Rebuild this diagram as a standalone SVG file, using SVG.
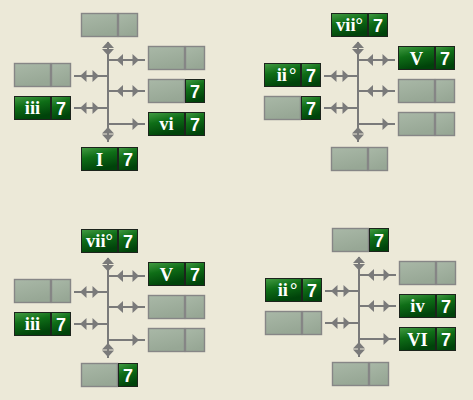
<svg xmlns="http://www.w3.org/2000/svg" xmlns:xlink="http://www.w3.org/1999/xlink" width="473" height="400" viewBox="0 0 473 400">
<style>
.bg{fill:#ece9d8}
.g{fill:url(#gG);stroke:#1c241c;stroke-width:1}
.y{fill:url(#gY);stroke:#868686;stroke-width:1.4}
.rn{font-family:"Liberation Serif","Times New Roman",serif;font-weight:bold;font-size:18.5px;fill:#ffffff;text-anchor:middle}
.nm{font-family:"Liberation Sans",Arial,sans-serif;font-weight:bold;font-size:18px;fill:#ffffff;text-anchor:middle}
.ln{stroke:#7a7a7a;stroke-width:2;fill:none}
.ah{fill:#7a7a7a}
</style>
<defs>
<linearGradient id="gG" x1="0" y1="0" x2="0.35" y2="1">
<stop offset="0" stop-color="#449c44"/>
<stop offset="0.45" stop-color="#0f6e17"/>
<stop offset="1" stop-color="#00430a"/>
</linearGradient>
<linearGradient id="gY" x1="0" y1="0" x2="0.35" y2="1">
<stop offset="0" stop-color="#a9b8a7"/>
<stop offset="1" stop-color="#97a795"/>
</linearGradient>
<path id="aR" d="M0,-6 L6.5,0 L0,6 Z"/>
<path id="aL" d="M0,-6 L-6.5,0 L0,6 Z"/>
<path id="aU" d="M-6,0 L0,-6.5 L6,0 Z"/>
<path id="aD" d="M-6,0 L0,6.5 L6,0 Z"/>
<g id="conn">
<line class="ln" x1="108" y1="42" x2="108" y2="142"/>
<use class="ah" xlink:href="#aU" x="108" y="48"/>
<use class="ah" xlink:href="#aD" x="108" y="49"/>
<use class="ah" xlink:href="#aU" x="108" y="133.5"/>
<use class="ah" xlink:href="#aD" x="108" y="134.5"/>
<line class="ln" x1="108" y1="60" x2="145" y2="60"/>
<use class="ah" xlink:href="#aL" x="123" y="60"/>
<use class="ah" xlink:href="#aR" x="132.5" y="60"/>
<line class="ln" x1="108" y1="91" x2="145" y2="91"/>
<use class="ah" xlink:href="#aL" x="123" y="91"/>
<use class="ah" xlink:href="#aR" x="132.5" y="91"/>
<line class="ln" x1="108" y1="124" x2="145" y2="124"/>
<use class="ah" xlink:href="#aR" x="132.5" y="124"/>
<line class="ln" x1="74" y1="76" x2="108" y2="76"/>
<use class="ah" xlink:href="#aL" x="86.5" y="76"/>
<use class="ah" xlink:href="#aR" x="92.5" y="76"/>
<line class="ln" x1="74" y1="108" x2="108" y2="108"/>
<use class="ah" xlink:href="#aL" x="86.5" y="108"/>
<use class="ah" xlink:href="#aR" x="92.5" y="108"/>
</g>
</defs>
<rect class="bg" x="0" y="0" width="473" height="400"/>
<g id="connectors">
<use xlink:href="#conn"/>
<use xlink:href="#conn" transform="translate(250,0)"/>
<use xlink:href="#conn" transform="translate(0,216)"/>
<use xlink:href="#conn" transform="translate(251,215)"/>
</g>
<!-- Panel 1 -->
<g id="p1-top" transform="translate(81,13)"><rect class="y" x="0.5" y="0.5" width="36" height="23"/><rect class="y" x="37.5" y="0.5" width="19" height="23"/></g>
<g id="p1-r1" transform="translate(148,46)"><rect class="y" x="0.5" y="0.5" width="36" height="23"/><rect class="y" x="37.5" y="0.5" width="19" height="23"/></g>
<g id="p1-r2" transform="translate(148,79)"><rect class="y" x="0.5" y="0.5" width="36" height="23"/><rect class="g" x="37.5" y="0.5" width="19" height="23"/><text class="nm" x="47" y="18.5">7</text></g>
<g id="p1-r3" transform="translate(148,112)"><rect class="g" x="0.5" y="0.5" width="36" height="23"/><text class="rn" x="18.5" y="18">vi</text><rect class="g" x="37.5" y="0.5" width="19" height="23"/><text class="nm" x="47" y="18.5">7</text></g>
<g id="p1-l1" transform="translate(14,63)"><rect class="y" x="0.5" y="0.5" width="36" height="23"/><rect class="y" x="37.5" y="0.5" width="19" height="23"/></g>
<g id="p1-l2" transform="translate(14,96)"><rect class="g" x="0.5" y="0.5" width="36" height="23"/><text class="rn" x="18.5" y="18">iii</text><rect class="g" x="37.5" y="0.5" width="19" height="23"/><text class="nm" x="47" y="18.5">7</text></g>
<g id="p1-bot" transform="translate(81,147)"><rect class="g" x="0.5" y="0.5" width="36" height="23"/><text class="rn" x="18.5" y="18.5">I</text><rect class="g" x="37.5" y="0.5" width="19" height="23"/><text class="nm" x="47" y="18.5">7</text></g>
<!-- Panel 2 -->
<g id="p2-top" transform="translate(331,13)"><rect class="g" x="0.5" y="0.5" width="36" height="23"/><text class="rn" x="18.5" y="17.5">vii°</text><rect class="g" x="37.5" y="0.5" width="19" height="23"/><text class="nm" x="47" y="18.5">7</text></g>
<g id="p2-r1" transform="translate(398,46)"><rect class="g" x="0.5" y="0.5" width="36" height="23"/><text class="rn" x="18.5" y="18.5">V</text><rect class="g" x="37.5" y="0.5" width="19" height="23"/><text class="nm" x="47" y="18.5">7</text></g>
<g id="p2-r2" transform="translate(398,79)"><rect class="y" x="0.5" y="0.5" width="36" height="23"/><rect class="y" x="37.5" y="0.5" width="19" height="23"/></g>
<g id="p2-r3" transform="translate(398,112)"><rect class="y" x="0.5" y="0.5" width="36" height="23"/><rect class="y" x="37.5" y="0.5" width="19" height="23"/></g>
<g id="p2-l1" transform="translate(264,63)"><rect class="g" x="0.5" y="0.5" width="36" height="23"/><text class="rn" x="22.5" y="17.5">ii<tspan dx="2">°</tspan></text><rect class="g" x="37.5" y="0.5" width="19" height="23"/><text class="nm" x="47" y="18.5">7</text></g>
<g id="p2-l2" transform="translate(264,96)"><rect class="y" x="0.5" y="0.5" width="36" height="23"/><rect class="g" x="37.5" y="0.5" width="19" height="23"/><text class="nm" x="47" y="18.5">7</text></g>
<g id="p2-bot" transform="translate(331,147)"><rect class="y" x="0.5" y="0.5" width="36" height="23"/><rect class="y" x="37.5" y="0.5" width="19" height="23"/></g>
<!-- Panel 3 -->
<g id="p3-top" transform="translate(81,229)"><rect class="g" x="0.5" y="0.5" width="36" height="23"/><text class="rn" x="18.5" y="17.5">vii°</text><rect class="g" x="37.5" y="0.5" width="19" height="23"/><text class="nm" x="47" y="18.5">7</text></g>
<g id="p3-r1" transform="translate(148,262)"><rect class="g" x="0.5" y="0.5" width="36" height="23"/><text class="rn" x="18.5" y="18.5">V</text><rect class="g" x="37.5" y="0.5" width="19" height="23"/><text class="nm" x="47" y="18.5">7</text></g>
<g id="p3-r2" transform="translate(148,295)"><rect class="y" x="0.5" y="0.5" width="36" height="23"/><rect class="y" x="37.5" y="0.5" width="19" height="23"/></g>
<g id="p3-r3" transform="translate(148,328)"><rect class="y" x="0.5" y="0.5" width="36" height="23"/><rect class="y" x="37.5" y="0.5" width="19" height="23"/></g>
<g id="p3-l1" transform="translate(14,279)"><rect class="y" x="0.5" y="0.5" width="36" height="23"/><rect class="y" x="37.5" y="0.5" width="19" height="23"/></g>
<g id="p3-l2" transform="translate(14,312)"><rect class="g" x="0.5" y="0.5" width="36" height="23"/><text class="rn" x="18.5" y="18">iii</text><rect class="g" x="37.5" y="0.5" width="19" height="23"/><text class="nm" x="47" y="18.5">7</text></g>
<g id="p3-bot" transform="translate(81,363)"><rect class="y" x="0.5" y="0.5" width="36" height="23"/><rect class="g" x="37.5" y="0.5" width="19" height="23"/><text class="nm" x="47" y="18.5">7</text></g>
<!-- Panel 4 -->
<g id="p4-top" transform="translate(332,228)"><rect class="y" x="0.5" y="0.5" width="36" height="23"/><rect class="g" x="37.5" y="0.5" width="19" height="23"/><text class="nm" x="47" y="18.5">7</text></g>
<g id="p4-r1" transform="translate(399,261)"><rect class="y" x="0.5" y="0.5" width="36" height="23"/><rect class="y" x="37.5" y="0.5" width="19" height="23"/></g>
<g id="p4-r2" transform="translate(399,294)"><rect class="g" x="0.5" y="0.5" width="36" height="23"/><text class="rn" x="18.5" y="17.5">iv</text><rect class="g" x="37.5" y="0.5" width="19" height="23"/><text class="nm" x="47" y="18.5">7</text></g>
<g id="p4-r3" transform="translate(399,327)"><rect class="g" x="0.5" y="0.5" width="36" height="23"/><text class="rn" x="18.5" y="18.5">VI</text><rect class="g" x="37.5" y="0.5" width="19" height="23"/><text class="nm" x="47" y="18.5">7</text></g>
<g id="p4-l1" transform="translate(265,278)"><rect class="g" x="0.5" y="0.5" width="36" height="23"/><text class="rn" x="22.5" y="17.5">ii<tspan dx="2">°</tspan></text><rect class="g" x="37.5" y="0.5" width="19" height="23"/><text class="nm" x="47" y="18.5">7</text></g>
<g id="p4-l2" transform="translate(265,311)"><rect class="y" x="0.5" y="0.5" width="36" height="23"/><rect class="y" x="37.5" y="0.5" width="19" height="23"/></g>
<g id="p4-bot" transform="translate(332,362)"><rect class="y" x="0.5" y="0.5" width="36" height="23"/><rect class="y" x="37.5" y="0.5" width="19" height="23"/></g>
</svg>
